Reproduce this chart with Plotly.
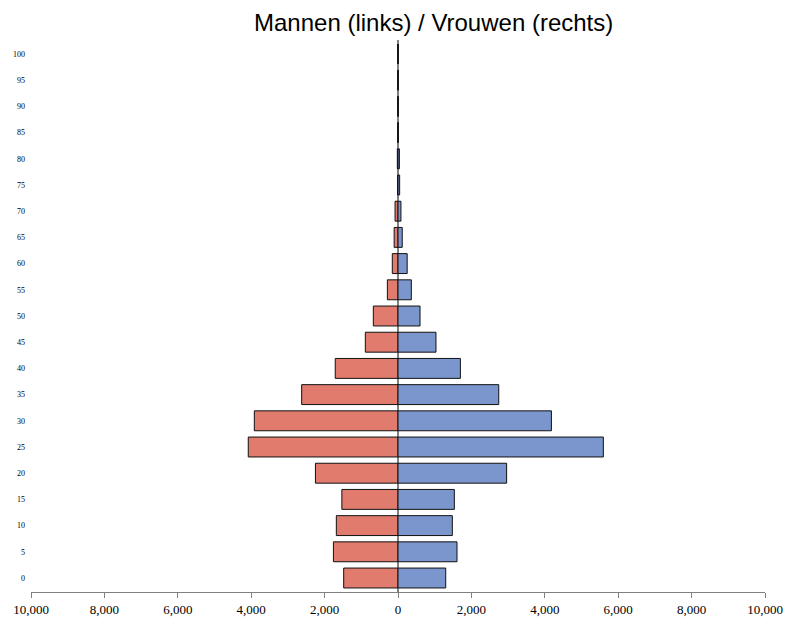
import plotly.graph_objects as go

ages = [0, 5, 10, 15, 20, 25, 30, 35, 40, 45, 50, 55, 60, 65, 70, 75, 80, 85, 90, 95, 100]
men = [1480, 1760, 1680, 1530, 2250, 4080, 3915, 2625, 1710, 890, 672, 290, 155, 105, 80, 12, 18, 6, 4, 3, 0]
women = [1300, 1608, 1480, 1535, 2960, 5595, 4180, 2745, 1700, 1035, 600, 363, 250, 115, 80, 45, 38, 10, 10, 8, 0]
x_ticks = [-10000, -8000, -6000, -4000, -2000, 0, 2000, 4000, 6000, 8000, 10000]
x_labels = [f"{abs(v):,}" for v in x_ticks]

men_color = "#E07B6D"
women_color = "#7B96CD"

fig = go.Figure()
fig.add_trace(go.Bar(
    y=ages, x=[-v for v in men], orientation="h", name="Mannen",
    marker=dict(color=men_color, line=dict(color="#111111", width=1)),
    customdata=men, hovertemplate="%{y}: %{customdata:,}<extra>Mannen</extra>",
    width=3.8,
))
fig.add_trace(go.Bar(
    y=ages, x=women, orientation="h", name="Vrouwen",
    marker=dict(color=women_color, line=dict(color="#111111", width=1)),
    hovertemplate="%{y}: %{x:,}<extra>Vrouwen</extra>",
    width=3.8,
))

fig.update_layout(
    width=787, height=623,
    barmode="overlay",
    showlegend=False,
    plot_bgcolor="white", paper_bgcolor="white",
    margin=dict(l=31, r=22, t=40, b=31, autoexpand=False),
    title=dict(text="Mannen (links) / Vrouwen (rechts)", x=0.551, xanchor="center",
               y=1 - 23 / 623, yanchor="middle",
               font=dict(family="Liberation Sans, Arial", size=24, color="black")),
    xaxis=dict(
        range=[-10000, 10000], tickvals=x_ticks, ticktext=x_labels,
        showgrid=False, zeroline=True, zerolinecolor="#808080", zerolinewidth=2,
        showline=True, linecolor="#808080", linewidth=1,
        ticks="outside", ticklen=5, tickcolor="#808080",
        tickfont=dict(family="Liberation Serif, Times New Roman", size=13, color="black"),
        layer="above traces", fixedrange=True, automargin=False,
    ),
    yaxis=dict(
        range=[-2.67, 102.67], tickvals=ages, ticktext=[str(a) for a in ages],
        showgrid=False, zeroline=False, showline=False, ticks="",
        tickfont=dict(family="Liberation Serif, Times New Roman", size=8, color="black"),
        ticklabelstandoff=5, automargin=False,
    ),
)

# remove the browser's default 8px page margin so the figure fills the window exactly
fig.write_html(
    "out.html",
    config={"displayModeBar": False},
    post_script="document.body.style.margin='0';document.body.style.overflow='hidden';",
)
